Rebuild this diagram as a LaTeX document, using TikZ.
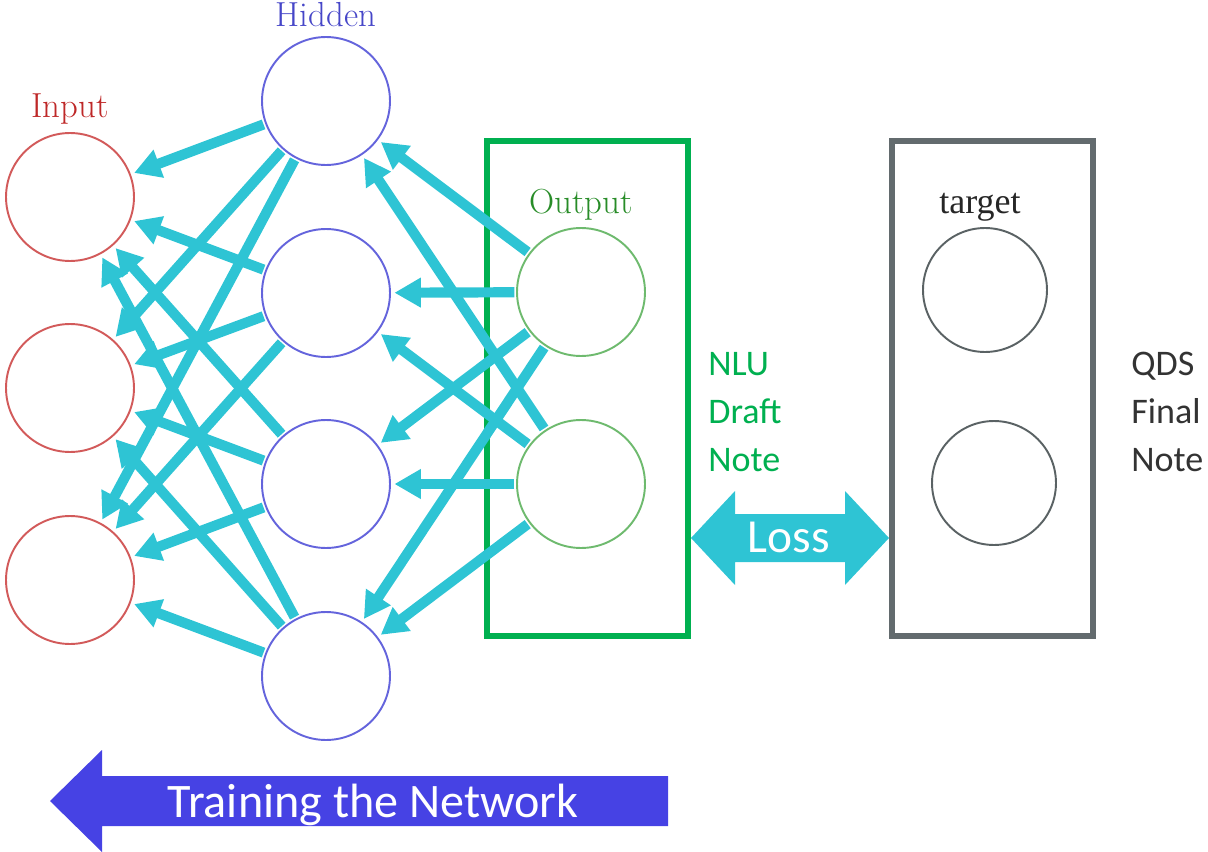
\documentclass[tikz,border=0pt]{standalone}
\usepackage{xcolor}
\usepackage{fontspec}
\usepackage{tikz}
\usetikzlibrary{arrows.meta}
\newfontfamily\calib{Carlito}
\newfontfamily\timesr{Liberation Serif}
\definecolor{inred}{RGB}{210,90,90}
\definecolor{intext}{RGB}{190,40,40}
\definecolor{hidblue}{RGB}{100,100,220}
\definecolor{hidtext}{RGB}{70,70,200}
\definecolor{outgreen}{RGB}{110,186,110}
\definecolor{outtext}{RGB}{40,140,40}
\definecolor{boxgreen}{RGB}{0,176,80}
\definecolor{boxgray}{RGB}{99,107,110}
\definecolor{tgtgray}{RGB}{90,98,100}
\definecolor{losscyan}{RGB}{46,196,212}
\definecolor{trainblue}{RGB}{70,66,228}

\begin{document}
\begin{tikzpicture}[x=0.02cm, y=-0.02cm,
	unit/.style={circle, draw, line width=1.1pt, minimum size=2.56cm, inner sep=0pt},
	layer/.style={inner sep=0pt, anchor=base, font=\fontsize{19.8}{23}\selectfont},
	side/.style={inner sep=0pt, anchor=base west, font=\calib\fontsize{20.5}{24}\selectfont},
	back/.style={losscyan, line width=5.8pt, -{Triangle[length=15pt,width=16pt]}, shorten <=1pt, shorten >=2pt}]
\useasboundingbox (0,0) rectangle (1208,852);

\node[unit, inred] (i1) at (70,197) {};
\node[unit, inred] (i2) at (70,388) {};
\node[unit, inred] (i3) at (70,580) {};
\node[unit, hidblue] (h1) at (326,101) {};
\node[unit, hidblue] (h2) at (326,293) {};
\node[unit, hidblue] (h3) at (326,484) {};
\node[unit, hidblue] (h4) at (326,676) {};
\node[unit, outgreen] (o1) at (581,292) {};
\node[unit, outgreen] (o2) at (581,484) {};
\node[unit, tgtgray, minimum size=2.48cm] (t1) at (985,290) {};
\node[unit, tgtgray, minimum size=2.48cm] (t2) at (994,483) {};

\node[layer, text=intext] (lin) at (70,117) {Input};
\node[layer, text=hidtext] (lhid) at (326,27) {Hidden};
\node[layer, text=outtext] (lout) at (581,213) {Output};
\node[layer, text=black!85, font=\timesr\fontsize{20.5}{24}\selectfont] (ltgt) at (980,213) {target};

\draw[boxgreen, line width=2.9pt] (487,141) rectangle (688,636);
\draw[boxgray, line width=3.4pt] (892,141) rectangle (1093,636);

\path[back] (h1) edge (i1) edge (i2) edge (i3);
\path[back] (h2) edge (i1) edge (i2) edge (i3);
\path[back] (h3) edge (i1) edge (i2) edge (i3);
\path[back] (h4) edge (i1) edge (i2) edge (i3);
\path[back] (o1) edge (h1) edge (h2) edge (h3) edge (h4);
\path[back] (o2) edge (h1) edge (h2) edge (h3) edge (h4);

\node[side, text=boxgreen] (nlu1) at (708,375) {NLU};
\node[side, text=boxgreen] (nlu2) at (708,423) {Draft};
\node[side, text=boxgreen] (nlu3) at (708,471) {Note};
\node[side, text=black!80] (qds1) at (1131,375) {QDS};
\node[side, text=black!80] (qds2) at (1131,423) {Final};
\node[side, text=black!80] (qds3) at (1131,471) {Note};

\fill[losscyan] (691,538) -- (735,491) -- (735,514) -- (845,514) -- (845,491) -- (889,538) -- (845,585) -- (845,562) -- (735,562) -- (735,585) -- cycle;
\node[inner sep=0pt, anchor=base, text=white, font=\calib\fontsize{27}{31}\selectfont] (loss) at (789,552) {Loss};

\fill[trainblue] (50,801) -- (102,750) -- (102,776) -- (668,776) -- (668,826) -- (102,826) -- (102,852) -- cycle;
\node[inner sep=0pt, anchor=base, text=white, font=\calib\fontsize{27.4}{31}\selectfont] (train) at (373,817) {Training the Network};
\end{tikzpicture}
\end{document}
